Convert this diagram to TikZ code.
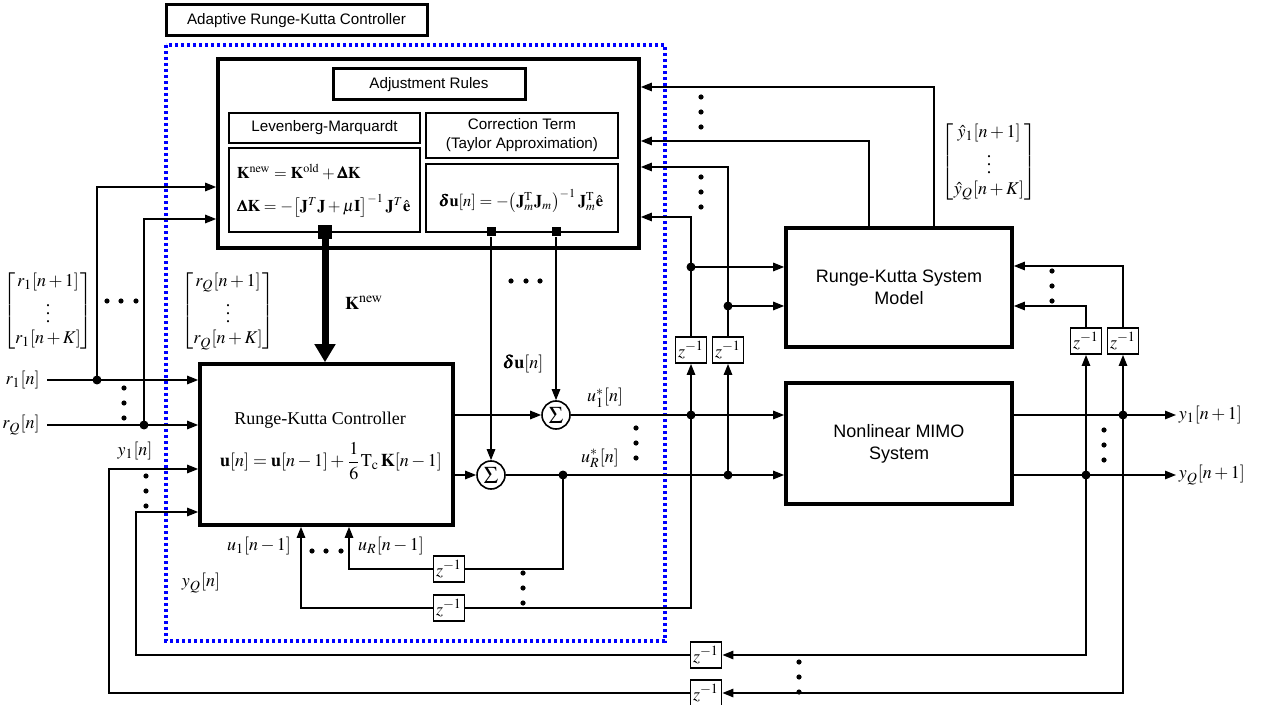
\documentclass[tikz,border=0pt]{standalone}
\usepackage{amsmath}
\usepackage{mathptmx}
\usepackage{bm}
\usepackage{fontspec}
\setmainfont{Liberation Serif}
\setsansfont{Liberation Sans}
\usetikzlibrary{arrows.meta,calc}

\begin{document}
\begin{tikzpicture}[x={(0.5pt,0)},y={(0,-0.5pt)},>={Triangle[length=5.5pt,width=4.2pt]},
  line width=0.8pt,font=\fontsize{9}{10.5}\selectfont,
  blk/.style={draw,line width=1.8pt,align=center,inner sep=0pt,font=\fontsize{9}{11}\selectfont\sffamily},
  panel/.style={draw,line width=0.9pt,align=center,inner sep=0pt,font=\fontsize{7.6}{9.5}\selectfont\sffamily},
  eqn/.style={inner sep=0.5pt,font=\fontsize{8.2}{9.5}\selectfont},
  delay/.style={draw,line width=0.9pt,minimum width=15.5pt,minimum height=13pt,inner sep=0pt},
  sumnode/.style={circle,draw,line width=0.8pt,minimum size=14pt,inner sep=0pt,font=\fontsize{12}{12}\selectfont},
  junc/.style={circle,fill,inner sep=0pt,minimum size=4.5pt},
  tap/.style={fill,inner sep=0pt,minimum size=4.5pt}]
\useasboundingbox (0,0) rectangle (1263,705);

% adaptive controller frame and its caption
\node[draw,line width=1.5pt,minimum width=130.5pt,minimum height=15.5pt,inner sep=0pt,
  font=\fontsize{7.6}{9}\selectfont\sffamily] (title) at (296.5,20.5) {Adaptive Runge-Kutta Controller};
\draw[blue,line width=1.6pt,dash pattern=on 1.6pt off 1.4pt] (166,45) rectangle (665,641);

% adjustment rules
\node[blk,minimum width=210.5pt,minimum height=94.5pt] (adjrules) at (428.5,153.5) {};
\node[blk,line width=1.5pt,minimum width=96pt,minimum height=15.5pt,
  font=\fontsize{7.6}{9}\selectfont\sffamily] (adjhead) at (429,84.5) {Adjustment Rules};
\node[panel,minimum width=95.5pt,minimum height=15pt] (lmhead) at (324.5,128) {Levenberg-Marquardt};
\node[panel,minimum width=95.5pt,minimum height=42pt] (lmbody) at (324.5,190) {};
\node[eqn,anchor=west] (lmeqA) at (235,172) {$\mathbf{K}^{\mathrm{new}}=\mathbf{K}^{\mathrm{old}}+\bm{\Delta}\mathbf{K}$};
\node[eqn,anchor=west] (lmeqB) at (235,206) {$\bm{\Delta}\mathbf{K}=-\big[\mathbf{J}^{T}\mathbf{J}+\mu\mathbf{I}\big]^{-1}\,\mathbf{J}^{T}\hat{\mathbf{e}}$};
\node[panel,minimum width=96pt,minimum height=22.5pt] (cthead) at (522,135.5) {Correction Term\\(Taylor Approximation)};
\node[panel,minimum width=96pt,minimum height=34pt] (ctbody) at (522,198) {};
\node[eqn] (cteq) at (521,201)
  {$\bm{\delta}\mathbf{u}[n]=-\big(\mathbf{J}_m^{\mathrm{T}}\mathbf{J}_m\big)^{-1}\,\mathbf{J}_m^{\mathrm{T}}\hat{\mathbf{e}}$};
\node[tap,minimum size=7pt] (tapK) at (325,232) {};
\node[tap] (tapS) at (491,232) {};
\node[tap] (tapT) at (556,232) {};

% controller, model and plant
\node[blk,minimum width=126.5pt,minimum height=80.5pt] (rkctrl) at (326.5,444.5) {};
\node (rkname) at (320,420) {Runge-Kutta Controller};
\node (rklaw) at (331,461) {$\mathbf{u}[n]=\mathbf{u}[n-1]+\dfrac{1}{6}\mathrm{T}_{\mathrm{c}}\,\mathbf{K}[n-1]$};
\node[blk,minimum width=113pt,minimum height=59.5pt] (rkmodel) at (899,287.5) {Runge-Kutta System\\Model};
\node[blk,minimum width=113pt,minimum height=60.5pt] (plant) at (899,443.5) {Nonlinear MIMO\\System};
\node[sumnode] (sumA) at (556,415) {$\Sigma$};
\node[sumnode] (sumB) at (491,475) {$\Sigma$};

% unit delays
\node[delay] (zA) at (691,350) {$z^{-1}$};
\node[delay] (zB) at (728,350) {$z^{-1}$};
\node[delay] (zC) at (1086,341) {$z^{-1}$};
\node[delay] (zD) at (1123,341) {$z^{-1}$};
\node[delay] (zuR) at (449,569) {$z^{-1}$};
\node[delay] (zu1) at (449,608) {$z^{-1}$};
\node[delay] (zyQ) at (706,655) {$z^{-1}$};
\node[delay] (zyA) at (706,693) {$z^{-1}$};

% signal labels
\node[anchor=east] (rA) at (47,380) {$r_1[n]$};
\node[anchor=east] (rQ) at (47,425) {$r_Q[n]$};
\node (rvecA) at (48,311) {$\begin{bmatrix} r_1[n+1]\\ \vdots\\ r_1[n+K]\end{bmatrix}$};
\node (rvecQ) at (228,311) {$\begin{bmatrix} r_Q[n+1]\\ \vdots\\ r_Q[n+K]\end{bmatrix}$};
\node (yhat) at (989,162) {$\begin{bmatrix} \hat{y}_1[n+1]\\ \vdots\\ \hat{y}_Q[n+K]\end{bmatrix}$};
\node (knew) at (364,303) {$\mathbf{K}^{\mathrm{new}}$};
\node (du) at (523,364) {$\bm{\delta}\mathbf{u}[n]$};
\node (ustA) at (605,398) {$u_1^{*}[n]$};
\node (ustR) at (600,458) {$u_R^{*}[n]$};
\node (yinA) at (135,451) {$y_1[n]$};
\node (yinQ) at (201,583) {$y_Q[n]$};
\node (uoldA) at (259,546) {$u_1[n-1]$};
\node (uoldR) at (391,546) {$u_R[n-1]$};
\node[anchor=west,inner sep=1pt] (yoA) at (1176,415) {$y_1[n+1]$};
\node[anchor=west,inner sep=1pt] (yoQ) at (1176,475) {$y_Q[n+1]$};

% taps and corners
\coordinate (jrA) at (97,380);
\coordinate (jrQ) at (144,425);
\coordinate (rowLA) at (0,187);
\coordinate (rowLQ) at (0,219);
\coordinate (tapR1) at (934,87);
\coordinate (tapR2) at (869,141);
\coordinate (tapR3) at (728,167);
\coordinate (tapR4) at (691,217);
\coordinate (jzA) at (691,267);
\coordinate (jzB) at (728,306);
\coordinate (tapM1) at (1123,266);
\coordinate (tapM2) at (1086,306);
\coordinate (ju1) at (691,415);
\coordinate (juR) at (728,475);
\coordinate (juRb) at (563,475);
\coordinate (colU1) at (301,0);
\coordinate (colUR) at (349,0);
\coordinate (jyA) at (1123,415);
\coordinate (jyQ) at (1086,475);
\coordinate (colYA) at (109,469);
\coordinate (colYQ) at (136,512);

% references
\draw[->] (rA.east) -- (rkctrl.west |- rA.east);
\draw[->] (rQ.east) -- (rkctrl.west |- rQ.east);
\draw[->] (jrA) |- (adjrules.west |- rowLA);
\draw[->] (jrQ) |- (adjrules.west |- rowLQ);

% adjustment outputs
\draw[-{Triangle[length=9pt,width=10pt]},line width=3.5pt] (tapK.center) -- (tapK |- rkctrl.north);
\draw[->] (tapS) -- (sumB.north);
\draw[->] (tapT) -- (sumA.north);

% control signals
\draw[->] (rkctrl.east |- sumA) -- (sumA.west);
\draw[->] (sumA.east) -- (plant.west |- sumA);
\draw[->] (rkctrl.east |- sumB) -- (sumB.west);
\draw[->] (sumB.east) -- (plant.west |- sumB);
\draw[->] (ju1) -- (zA.south);
\draw[->] (juR) -- (zB.south);
\draw (ju1) |- (zu1.east);
\draw[->] (zu1.west) -| (rkctrl.south -| colU1);
\draw (juRb) |- (zuR.east);
\draw[->] (zuR.west) -| (rkctrl.south -| colUR);

% delayed inputs to the adjustment rules and the model
\draw[->] (zB.north) |- (adjrules.east |- tapR3);
\draw[->] (zA.north) |- (adjrules.east |- tapR4);
\draw[->] (jzA) -- (rkmodel.west |- jzA);
\draw[->] (jzB) -- (rkmodel.west |- jzB);
\draw[->] (rkmodel.north -| tapR1) |- (adjrules.east |- tapR1);
\draw[->] (rkmodel.north -| tapR2) |- (adjrules.east |- tapR2);

% plant outputs and feedback
\draw[->] (plant.east |- yoA.west) -- (yoA.west);
\draw[->] (plant.east |- yoQ.west) -- (yoQ.west);
\draw[->] (jyA) -- (zD.south);
\draw[->] (jyQ) -- (zC.south);
\draw[->] (zD.north) |- (rkmodel.east |- tapM1);
\draw[->] (zC.north) |- (rkmodel.east |- tapM2);
\draw[->] (jyA) |- (zyA.east);
\draw[->] (jyQ) |- (zyQ.east);
\draw[->] (zyA.west) -| (colYA) -- (rkctrl.west |- colYA);
\draw[->] (zyQ.west) -| (colYQ) -- (rkctrl.west |- colYQ);

% junction dots
\foreach \j in {jrA,jrQ,jzA,jzB,ju1,juR,juRb,jyA,jyQ}
  \node[junc] at (\j) {};

% ellipsis dots
\foreach \xx/\yy in {124/388,124/403,124/418, 146/476,146/491,146/506,
    701/97,701/112,701/127, 701/177,701/192,701/207, 636/428,636/443,636/458,
    523/573,523/588,523/603, 1052/271,1052/286,1052/301, 1104/430,1104/445,1104/460,
    799/662,799/677,799/692, 107/301,121/301,136/301, 511/281,526/281,540/281,
    312/551,326/551,341/551}
  \fill (\xx,\yy) circle (1.3pt);
\end{tikzpicture}
\end{document}
